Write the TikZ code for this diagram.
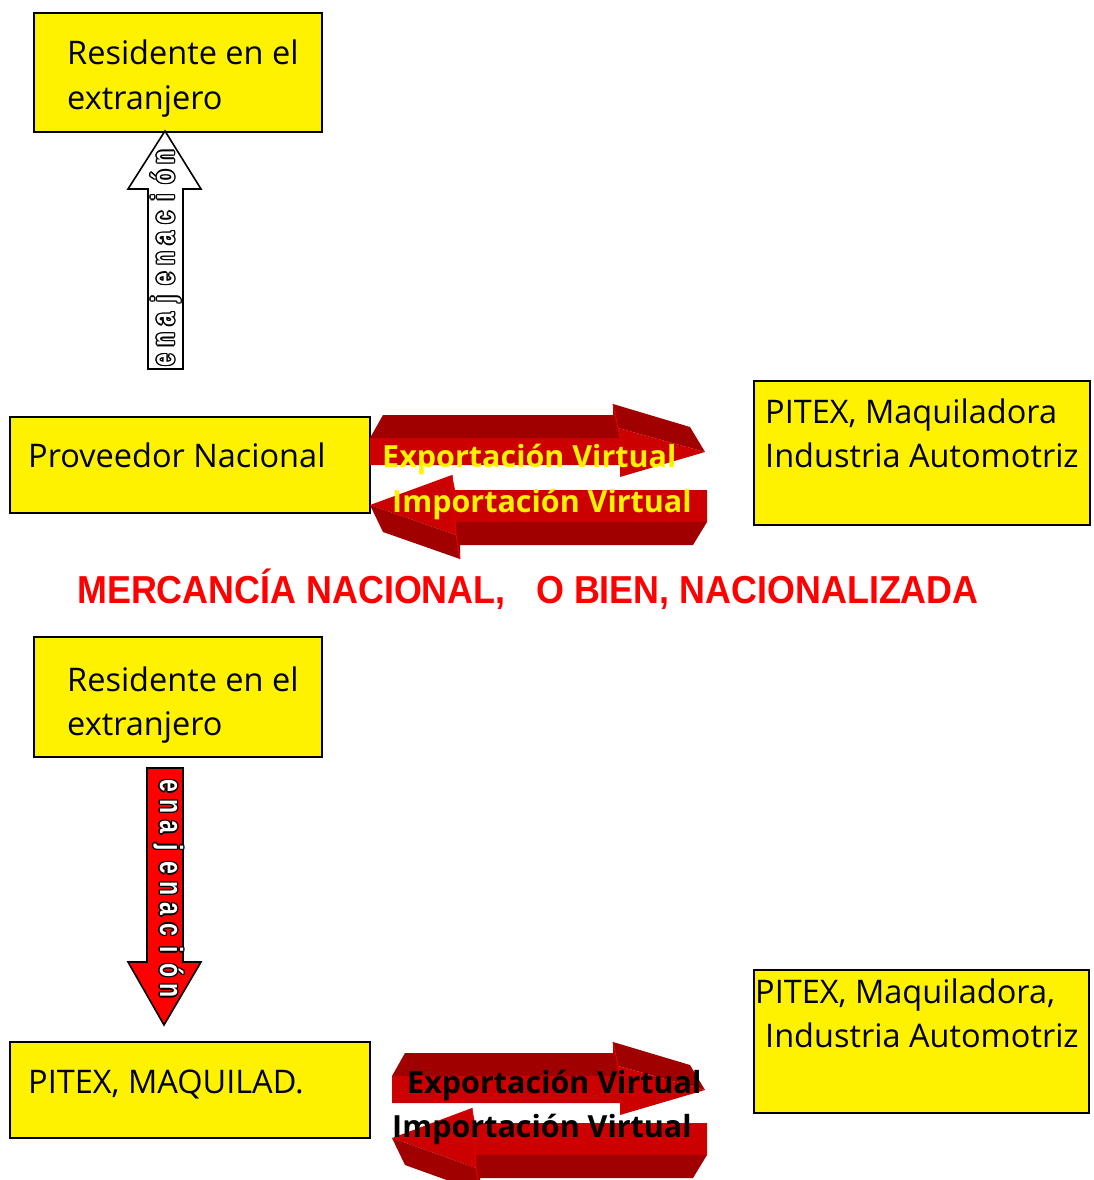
\documentclass[tikz,border=0pt]{standalone}
\usepackage{fontspec}
\setmainfont{Open Sans}
\newfontfamily\headfont{Liberation Sans}
\newfontfamily\letfont{Liberation Sans}
\definecolor{rdark}{HTML}{A00000}
\definecolor{rbright}{HTML}{CC0000}
\definecolor{redge}{HTML}{E80000}
\begin{document}
\begin{tikzpicture}[x=1pt,y=-1pt,
  ybox/.style={draw=black, line width=1.6pt, fill=yellow, inner sep=0pt},
  btxt/.style={anchor=base west, inner sep=0pt, font=\fontsize{32.5}{36}\selectfont},
  atxt/.style={anchor=base west, inner sep=0pt, font=\bfseries\fontsize{30.5}{34}\selectfont},
  letsty/.style={inner sep=0pt, text height=19pt, text depth=7pt, anchor=center,
     font=\letfont\bfseries\fontsize{32}{32}\selectfont},
  oarrow/.style={draw=black, line width=1.6pt, line join=miter},
]
\useasboundingbox (0,0) rectangle (1094,1180);

% ---------- top diagram ----------
\node[ybox, anchor=north west, minimum width=288pt, minimum height=119pt] (res1) at (33,12) {};
\node[btxt] (res1a) at (67,65) {Residente en el};
\node[btxt] (res1b) at (67,110) {extranjero};

\node[ybox, anchor=north west, minimum width=360pt, minimum height=96pt] (prov) at (9,416) {};
\node[btxt] (provt) at (28,467) {Proveedor Nacional};

\node[ybox, anchor=north west, minimum width=336pt, minimum height=144pt] (pit1) at (753,380) {};
\node[btxt] (pit1a) at (765,423) {PITEX, Maquiladora};
\node[btxt] (pit1b) at (765,467) {Industria Automotriz};

% up arrow (white)
\filldraw[oarrow, fill=white] (148,369) -- (148,189) -- (128,189) -- (165,131) -- (201,189) -- (183,189) -- (183,369) -- cycle;
\foreach \l [count=\i from 0] in {e,n,a,j,e,n,a,c,i,ó,n} {
  \pgfmathsetmacro\yy{360-20.3*\i}
  \foreach \dx/\dy in {1.4/0,-1.4/0,0/1.4,0/-1.4,1/1,-1/1,1/-1,-1/-1}
    \node[letsty, rotate=90, text=black, xshift=\dx pt, yshift=\dy pt] at (168,\yy) {\scalebox{0.72}[1]{\l}};
  \node[letsty, rotate=90, text=white] (ua\i) at (168,\yy) {\scalebox{0.72}[1]{\l}};
}

% right ribbon arrow (Exportacion)
\fill[rdark] (383,415) -- (613,415) -- (613,404) -- (690,427) -- (705,452) -- (618,428) -- (620,438) -- (370,438) -- cycle;
\fill[rbright] (370,438) -- (620,438) -- (618,428) -- (705,452) -- (620,477) -- (620,465) -- (370,465) -- cycle;
\draw[redge, line width=1pt] (613,404) -- (618,428) -- (620,438);
% left ribbon arrow (Importacion)
\fill[rbright] (370,505) -- (452,475) -- (455,490) -- (707,490) -- (707,522) -- (456,522) -- (456,535) -- cycle;
\fill[rdark] (370,505) -- (456,535) -- (456,522) -- (707,522) -- (693,545) -- (460,545) -- (460,559) -- (383,532) -- cycle;
\draw[redge, line width=1pt] (452,475) -- (456,535) -- (460,559);

\node[atxt, text=yellow] (exp1) at (382,467) {Exportación Virtual};
\node[atxt, text=yellow] (imp1) at (392,512) {Importación Virtual};

% ---------- title ----------
\node[inner sep=0pt, anchor=base, text=red] (title) at (528,603)
  {\scalebox{0.92}[1]{\headfont\bfseries\fontsize{39}{39}\selectfont MERCANCÍA NACIONAL,\hspace{0.85em}O BIEN, NACIONALIZADA}};

% ---------- bottom diagram ----------
\node[ybox, anchor=north west, minimum width=288pt, minimum height=120pt] (res2) at (33,636) {};
\node[btxt] (res2a) at (67,691) {Residente en el};
\node[btxt] (res2b) at (67,735) {extranjero};

\node[ybox, anchor=north west, minimum width=360pt, minimum height=96pt] (pm) at (9,1041) {};
\node[btxt] (pmt) at (28,1093) {PITEX, MAQUILAD.};

\node[ybox, anchor=north west, minimum width=335pt, minimum height=143pt] (pit2) at (753,969) {};
\node[btxt] (pit2a) at (755,1003) {PITEX, Maquiladora,};
\node[btxt] (pit2b) at (765,1047) {Industria Automotriz};

% down arrow (red)
\filldraw[oarrow, fill=red] (147,768) -- (183,768) -- (183,962) -- (201,962) -- (164,1025) -- (128,962) -- (147,962) -- cycle;
\foreach \l [count=\i from 0] in {e,n,a,j,e,n,a,c,i,ó,n} {
  \pgfmathsetmacro\yy{786+20.5*\i}
  \foreach \dx/\dy in {1.4/0,-1.4/0,0/1.4,0/-1.4,1/1,-1/1,1/-1,-1/-1}
    \node[letsty, rotate=-90, text=black, xshift=\dx pt, yshift=\dy pt] at (166,\yy) {\scalebox{0.72}[1]{\l}};
  \node[letsty, rotate=-90, text=white] (da\i) at (166,\yy) {\scalebox{0.72}[1]{\l}};
}

% right ribbon arrow (bottom)
\begin{scope}[yshift=-638pt]
\fill[rdark] (405,415) -- (613,415) -- (613,404) -- (690,427) -- (705,452) -- (618,428) -- (620,438) -- (392,438) -- cycle;
\fill[rbright] (392,438) -- (620,438) -- (618,428) -- (705,452) -- (620,477) -- (620,465) -- (392,465) -- cycle;
\draw[redge, line width=1pt] (613,404) -- (618,428) -- (620,438);
\end{scope}
\begin{scope}[yshift=-633pt]
\fill[rbright] (392,505) -- (472,475) -- (475,490) -- (707,490) -- (707,522) -- (476,522) -- (476,535) -- cycle;
\fill[rdark] (392,505) -- (476,535) -- (476,522) -- (707,522) -- (693,545) -- (480,545) -- (480,559) -- (405,532) -- cycle;
\draw[redge, line width=1pt] (472,475) -- (476,535) -- (480,559);
\end{scope}

\node[atxt, text=black] (exp2) at (407,1093) {Exportación Virtual};
\node[atxt, text=black] (imp2) at (392,1137) {Importación Virtual};
\end{tikzpicture}
\end{document}
